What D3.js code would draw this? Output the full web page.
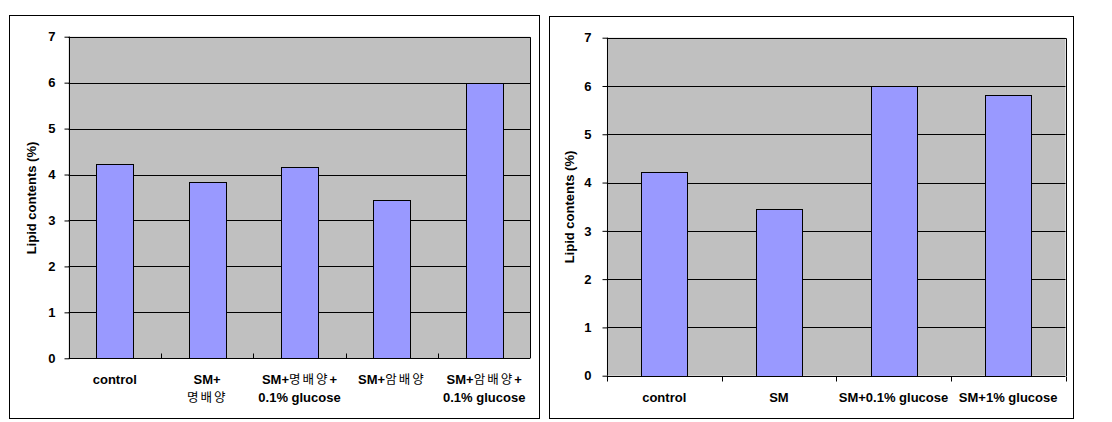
<!DOCTYPE html>
<html><head><meta charset="utf-8">
<script src="https://cdn.jsdelivr.net/npm/d3@7"></script>
<style>
html,body{margin:0;padding:0;background:#fff;}
svg{display:block;}
</style></head>
<body>
<svg id="c" width="1112" height="422"></svg>
<script>
// ---- data ----
const leftCategories = ["control", "SM+\n명배양", "SM+명배양+\n0.1% glucose", "SM+암배양", "SM+암배양+\n0.1% glucose"];
const leftValues = [4.24, 3.83, 4.16, 3.44, 6.0];
const rightCategories = ["control", "SM", "SM+0.1% glucose", "SM+1% glucose"];
const rightValues = [4.22, 3.45, 5.99, 5.82];
const yTicks = [0, 1, 2, 3, 4, 5, 6, 7];
const yTitle = "Lipid contents (%)";

const svg = d3.select("#c");
const latin = "'Liberation Sans', Arial, sans-serif";
const hangulFont = "'Noto Sans CJK KR', sans-serif";

function addLabel(g, text, x, y) {
  const t = g.append("text").attr("x", x).attr("y", y).attr("text-anchor", "middle")
    .attr("font-size", 13).attr("fill", "#000");
  const runs = text.match(/[\uAC00-\uD7A3]+|[^\uAC00-\uD7A3]+/g) || [];
  runs.forEach(r => {
    const isH = /[\uAC00-\uD7A3]/.test(r);
    t.append("tspan").text(r)
      .attr("font-family", isH ? hangulFont : latin)
      .attr("font-weight", isH ? "normal" : "bold")
      .attr("font-size", isH ? 12.5 : 13)
      .attr("letter-spacing", isH ? 2 : 0);
  });
}

function drawChart(o) {
  const g = svg.append("g");
  // outer frame
  g.append("rect").attr("x", o.frame[0]).attr("y", o.frame[1])
    .attr("width", o.frame[2] - o.frame[0]).attr("height", o.frame[3] - o.frame[1])
    .attr("fill", "#fff").attr("stroke", "#000").attr("stroke-width", 1);

  const x = d3.scaleBand().domain(o.categories).range([o.plot[0], o.plot[2]]).paddingInner(0.6).paddingOuter(0.3);
  const xb = d3.scaleBand().domain(o.categories).range([o.plot[0], o.plot[2]]);
  const y = d3.scaleLinear().domain([0, 7]).range([o.plot[3], o.plot[1]]);

  // plot background
  g.append("rect").attr("x", o.plot[0]).attr("y", y(7))
    .attr("width", o.plot[2] - o.plot[0]).attr("height", y(0) - y(7))
    .attr("fill", "#C0C0C0");

  // gridlines
  g.append("g").selectAll("line").data(yTicks.filter(d => d > 0)).join("line")
    .attr("x1", o.plot[0]).attr("x2", o.plot[2])
    .attr("y1", d => Math.round(y(d)) + 0.5).attr("y2", d => Math.round(y(d)) + 0.5)
    .attr("stroke", "#000").attr("stroke-width", 1);

  // plot border (top/right)
  g.append("path")
    .attr("d", `M${o.plot[0]},${Math.round(y(7)) + 0.5}H${Math.round(o.plot[2]) + 0.5}V${Math.round(y(0))}`)
    .attr("fill", "none").attr("stroke", "#000");

  // bars
  g.append("g").selectAll("rect").data(o.values).join("rect")
    .attr("x", (d, i) => Math.round(x(o.categories[i])) + 0.5)
    .attr("width", Math.round(x.bandwidth()))
    .attr("y", d => Math.round(y(d)) + 0.5)
    .attr("height", d => Math.round(y(0)) - Math.round(y(d)))
    .attr("fill", "#9999FF").attr("stroke", "#000").attr("stroke-width", 1);

  // y axis
  const ya = g.append("g").attr("transform", `translate(${Math.round(o.plot[0]) + 0.5},0)`)
    .call(d3.axisLeft(y).tickValues(yTicks).tickSize(5).tickPadding(o.tickPad).tickFormat(d3.format("d")));
  ya.select(".domain").attr("stroke", "#000").attr("d", `M0,${y(7)}V${y(0)}`);
  ya.selectAll(".tick line").attr("stroke", "#000");
  ya.selectAll(".tick text").attr("font-family", latin).attr("font-weight", "bold")
    .attr("font-size", 13).attr("fill", "#000");

  // x axis line
  g.append("line").attr("x1", o.plot[0]).attr("x2", o.plot[2])
    .attr("y1", Math.round(y(0)) + 0.5).attr("y2", Math.round(y(0)) + 0.5).attr("stroke", "#000");
  // x ticks at band boundaries
  const bounds = o.categories.map(c => xb(c)).concat([o.plot[2]]);
  const tickB = o.tickInside ? bounds.slice(1, -1) : bounds;
  g.append("g").selectAll("line").data(tickB).join("line")
    .attr("x1", d => Math.round(d) + 0.5).attr("x2", d => Math.round(d) + 0.5)
    .attr("y1", Math.round(y(0)) + 0.5)
    .attr("y2", Math.round(y(0)) + 0.5 + (o.tickInside ? -5 : 5))
    .attr("stroke", "#000");

  // x labels
  o.categories.forEach(c => {
    const cx = xb(c) + xb.bandwidth() / 2;
    const lines = c.split("\n");
    lines.forEach((ln, i) => addLabel(g, ln, cx, o.labelY[lines.length - 1] + i * 18));
  });

  // y title
  g.append("text").attr("transform", `translate(${o.titleX},${o.titleY}) rotate(-90)`)
    .attr("text-anchor", "middle").attr("dominant-baseline", "central")
    .attr("font-family", latin).attr("font-weight", "bold").attr("font-size", 13)
    .text(yTitle);
}

drawChart({
  categories: leftCategories, values: leftValues,
  frame: [9.5, 15.5, 539.5, 418.5],
  plot: [68.6, 36.7, 530.4, 358.3],
  tickPad: 9, tickInside: true,
  labelY: [384, 384], titleX: 31, titleY: 198
});
drawChart({
  categories: rightCategories, values: rightValues,
  frame: [549.5, 16.5, 1073.5, 418.5],
  plot: [606.9, 37.7, 1065.5, 375.7],
  tickPad: 11, tickInside: false,
  labelY: [402, 402], titleX: 569, titleY: 207
});
</script>
</body></html>
